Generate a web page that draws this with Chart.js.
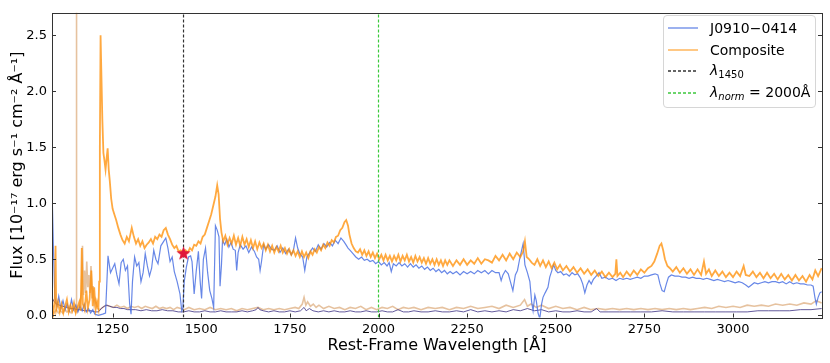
<!DOCTYPE html>
<html>
<head>
<meta charset="utf-8">
<script src="https://cdn.jsdelivr.net/npm/chart.js@4"></script>
<style>
  body { margin: 0; background: #fff; }
  #wrap { position: relative; width: 830px; height: 363px; }
  #legend {
    position: absolute; left: 663px; top: 15px; width: 151px; height: 91px;
    background: rgba(255,255,255,0.85); border: 1px solid #d6d6d6; border-radius: 4px;
    font-family: 'DejaVu Sans', sans-serif; font-size: 14px; color: #000;
  }
  .row { position: absolute; left: 0; height: 20px; display: flex; align-items: center; }
  .row svg { margin-left: 4px; }
  .row span { position: absolute; left: 46px; white-space: nowrap; }
  sub { font-size: 10px; vertical-align: -3px; }
</style>
</head>
<body>
<div id="wrap">
  <canvas id="chart" width="830" height="363"></canvas>
  <div id="legend"></div>
</div>
<script>
// rest-frame wavelength [Å], flux [1e-17 erg/s/cm2/Å]
const j0910 = [
  [1079,1.14],[1083,0.60],[1087,0.16],[1093,0.08],[1098,0.17],[1104,0.06],[1110,0.13],[1116,0.05],[1122,0.10],
  [1128,0.04],[1134,0.14],[1140,0.05],[1146,0.09],[1152,0.03],[1158,0.08],[1164,0.04],[1170,0.10],[1176,0.03],
  [1182,0.06],[1188,0.02],[1194,0.05],[1200,0.01],[1210,0.00],[1222,0.01],[1230,0.02],[1237,0.53],[1244,0.38],
  [1250,0.42],[1256,0.46],[1262,0.36],[1268,0.28],[1274,0.47],[1280,0.50],[1286,0.40],[1292,0.44],[1298,0.10],
  [1302,0.01],[1306,0.30],[1312,0.52],[1318,0.44],[1324,0.47],[1330,0.30],[1336,0.38],[1342,0.55],[1348,0.44],
  [1354,0.35],[1360,0.42],[1366,0.58],[1372,0.50],[1378,0.46],[1386,0.62],[1394,0.66],[1400,0.69],[1406,0.60],
  [1412,0.48],[1418,0.52],[1424,0.39],[1432,0.30],[1440,0.19],[1445,0.04],[1448,0.06],[1452,0.30],[1458,0.43],
  [1464,0.52],[1470,0.53],[1474,0.48],[1480,0.19],[1486,0.40],[1492,0.57],[1497,0.30],[1501,0.15],[1506,0.50],
  [1512,0.60],[1518,0.38],[1524,0.22],[1530,0.15],[1535,0.07],[1540,0.80],[1545,0.76],[1550,0.70],[1553,0.26],
  [1557,0.45],[1560,0.67],[1566,0.63],[1572,0.68],[1578,0.61],[1584,0.65],[1590,0.59],[1596,0.58],[1600,0.40],
  [1604,0.56],[1610,0.63],[1618,0.59],[1626,0.62],[1634,0.56],[1642,0.61],[1650,0.57],[1656,0.52],[1662,0.50],
  [1666,0.40],[1670,0.48],[1676,0.63],[1682,0.59],[1690,0.63],[1698,0.59],[1706,0.58],[1714,0.62],[1722,0.56],
  [1730,0.60],[1738,0.55],[1746,0.59],[1754,0.54],[1760,0.58],[1766,0.69],[1772,0.60],[1778,0.55],[1786,0.52],
  [1792,0.40],[1798,0.52],[1806,0.56],[1814,0.60],[1822,0.57],[1830,0.63],[1838,0.59],[1846,0.64],[1854,0.61],
  [1862,0.65],[1870,0.62],[1878,0.67],[1886,0.64],[1894,0.69],[1902,0.66],[1908,0.63],[1914,0.60],[1920,0.58],
  [1928,0.55],[1936,0.52],[1944,0.50],[1952,0.52],[1960,0.49],[1968,0.50],[1976,0.48],[1984,0.49],[1992,0.46],
  [2000,0.48],[2008,0.45],[2016,0.47],[2024,0.44],[2030,0.47],[2036,0.39],[2042,0.46],[2050,0.44],[2058,0.47],
  [2066,0.44],[2074,0.46],[2082,0.43],[2090,0.46],[2098,0.43],[2106,0.45],[2114,0.42],[2122,0.44],[2130,0.41],
  [2138,0.43],[2146,0.40],[2154,0.42],[2162,0.39],[2170,0.41],[2178,0.38],[2186,0.40],[2194,0.37],[2202,0.39],
  [2210,0.37],[2220,0.39],[2230,0.36],[2240,0.39],[2250,0.37],[2260,0.39],[2270,0.37],[2280,0.40],[2290,0.38],
  [2300,0.40],[2310,0.37],[2320,0.40],[2330,0.38],[2340,0.38],[2346,0.31],[2351,0.36],[2358,0.40],[2366,0.37],
  [2372,0.30],[2379,0.22],[2386,0.36],[2392,0.40],[2398,0.50],[2403,0.57],[2408,0.64],[2413,0.45],[2420,0.38],
  [2427,0.30],[2432,0.12],[2436,0.04],[2441,0.18],[2445,0.13],[2450,0.02],[2455,-0.03],[2460,0.10],[2464,0.16],
  [2470,0.20],[2478,0.25],[2483,0.34],[2488,0.39],[2494,0.45],[2500,0.40],[2506,0.38],[2514,0.39],[2522,0.36],
  [2530,0.37],[2538,0.35],[2546,0.38],[2554,0.36],[2562,0.37],[2570,0.33],[2576,0.28],[2582,0.20],[2588,0.27],
  [2594,0.31],[2600,0.28],[2606,0.32],[2614,0.35],[2622,0.38],[2630,0.33],[2640,0.34],[2650,0.32],[2660,0.33],
  [2670,0.31],[2680,0.33],[2690,0.32],[2700,0.33],[2710,0.32],[2720,0.33],[2730,0.34],[2740,0.33],[2750,0.35],
  [2760,0.35],[2770,0.36],[2780,0.37],[2788,0.36],[2794,0.28],[2800,0.22],[2806,0.21],[2812,0.28],[2818,0.34],
  [2826,0.36],[2836,0.35],[2846,0.35],[2856,0.34],[2866,0.34],[2876,0.33],[2886,0.34],[2896,0.33],[2906,0.33],
  [2916,0.32],[2926,0.33],[2936,0.32],[2946,0.31],[2956,0.32],[2966,0.31],[2976,0.30],[2986,0.31],[2996,0.30],
  [3006,0.29],[3016,0.30],[3026,0.29],[3036,0.27],[3044,0.25],[3052,0.27],[3060,0.29],[3070,0.28],[3080,0.29],
  [3090,0.30],[3100,0.29],[3110,0.30],[3120,0.30],[3130,0.29],[3140,0.30],[3150,0.28],[3160,0.30],[3170,0.28],
  [3180,0.29],[3190,0.28],[3200,0.28],[3210,0.27],[3220,0.27],[3226,0.26],[3231,0.16],[3235,0.10],[3240,0.16],
  [3245,0.20],[3250,0.21]
];

const composite = [
  [1079,0.10],[1083,0.02],[1087,0.15],[1089,0.62],[1091,0.05],[1096,0.12],[1101,0.03],[1106,0.10],[1111,0.02],
  [1116,0.08],[1121,0.14],[1126,0.03],[1131,0.09],[1136,0.04],[1141,0.11],[1146,0.02],[1151,0.07],[1156,0.12],
  [1160,0.04],[1163,0.60],[1166,0.10],[1171,0.05],[1176,0.22],[1180,0.06],[1185,0.14],[1190,0.40],[1194,0.08],
  [1198,0.25],[1202,0.05],[1206,0.12],[1210,0.06],[1212,0.30],[1214,1.50],[1216,2.50],[1218,2.20],[1221,1.75],
  [1224,1.45],[1227,1.38],[1230,1.30],[1233,1.40],[1236,1.49],[1239,1.30],[1242,1.20],[1246,1.04],[1250,0.95],
  [1255,0.90],[1260,0.85],[1266,0.78],[1272,0.72],[1278,0.67],[1284,0.64],[1290,0.70],[1296,0.66],[1304,0.78],
  [1310,0.70],[1316,0.64],[1322,0.68],[1328,0.62],[1334,0.66],[1340,0.60],[1346,0.63],[1352,0.65],[1358,0.68],
  [1364,0.64],[1370,0.70],[1376,0.68],[1382,0.72],[1388,0.70],[1394,0.76],[1400,0.78],[1406,0.72],[1412,0.68],
  [1418,0.63],[1424,0.60],[1430,0.62],[1436,0.57],[1442,0.58],[1450,0.55],[1456,0.58],[1462,0.56],[1468,0.60],
  [1474,0.58],[1480,0.63],[1486,0.62],[1492,0.66],[1498,0.64],[1504,0.70],[1510,0.72],[1516,0.78],[1522,0.84],
  [1528,0.90],[1534,0.98],[1540,1.06],[1545,1.16],[1549,1.08],[1553,0.86],[1557,0.74],[1562,0.66],[1568,0.71],
  [1574,0.63],[1580,0.69],[1586,0.64],[1592,0.71],[1598,0.63],[1604,0.69],[1610,0.62],[1616,0.70],[1622,0.63],
  [1628,0.68],[1634,0.61],[1640,0.67],[1646,0.60],[1652,0.66],[1658,0.59],[1664,0.65],[1670,0.60],[1676,0.64],
  [1682,0.58],[1688,0.63],[1694,0.57],[1700,0.62],[1706,0.56],[1712,0.61],[1718,0.57],[1724,0.62],[1730,0.56],
  [1736,0.60],[1742,0.55],[1748,0.59],[1754,0.54],[1760,0.58],[1766,0.53],[1772,0.57],[1778,0.52],[1784,0.57],
  [1790,0.52],[1796,0.56],[1802,0.51],[1808,0.57],[1814,0.54],[1820,0.59],[1826,0.56],[1832,0.61],[1838,0.58],
  [1844,0.63],[1850,0.60],[1856,0.65],[1862,0.62],[1868,0.67],[1874,0.65],[1880,0.70],[1886,0.71],[1892,0.76],
  [1898,0.78],[1904,0.83],[1909,0.85],[1914,0.80],[1918,0.72],[1924,0.64],[1930,0.60],[1936,0.57],[1942,0.56],
  [1948,0.59],[1954,0.54],[1960,0.58],[1966,0.53],[1972,0.57],[1978,0.52],[1984,0.56],[1990,0.51],[1996,0.55],
  [2002,0.50],[2008,0.54],[2014,0.49],[2020,0.54],[2026,0.49],[2032,0.53],[2038,0.48],[2044,0.53],[2050,0.49],
  [2056,0.54],[2062,0.48],[2068,0.53],[2074,0.49],[2080,0.54],[2086,0.48],[2092,0.52],[2098,0.47],[2104,0.53],
  [2110,0.48],[2116,0.52],[2122,0.47],[2128,0.51],[2134,0.46],[2140,0.51],[2146,0.46],[2152,0.50],[2158,0.45],
  [2164,0.50],[2170,0.45],[2176,0.49],[2182,0.44],[2188,0.49],[2194,0.45],[2200,0.49],[2210,0.44],[2220,0.49],
  [2230,0.45],[2240,0.50],[2250,0.45],[2260,0.49],[2270,0.46],[2280,0.51],[2290,0.46],[2300,0.50],[2310,0.49],
  [2320,0.47],[2330,0.53],[2340,0.49],[2350,0.54],[2360,0.49],[2370,0.55],[2380,0.50],[2390,0.56],[2400,0.52],
  [2408,0.57],[2413,0.66],[2418,0.52],[2425,0.50],[2432,0.47],[2440,0.45],[2448,0.50],[2456,0.44],[2464,0.49],
  [2472,0.43],[2480,0.48],[2488,0.42],[2496,0.47],[2504,0.41],[2512,0.45],[2520,0.40],[2530,0.44],[2540,0.39],
  [2550,0.43],[2560,0.38],[2570,0.42],[2580,0.37],[2590,0.41],[2600,0.36],[2610,0.40],[2620,0.35],[2630,0.39],
  [2640,0.34],[2650,0.38],[2660,0.34],[2668,0.37],[2671,0.50],[2674,0.35],[2682,0.38],[2690,0.34],[2700,0.39],
  [2710,0.35],[2720,0.40],[2730,0.36],[2740,0.41],[2750,0.38],[2760,0.42],[2770,0.44],[2778,0.48],[2786,0.55],
  [2793,0.62],[2798,0.64],[2803,0.58],[2808,0.50],[2815,0.44],[2822,0.42],[2830,0.39],[2840,0.43],[2850,0.38],
  [2860,0.42],[2870,0.37],[2880,0.41],[2890,0.36],[2900,0.41],[2910,0.36],[2918,0.48],[2924,0.37],[2932,0.41],
  [2940,0.35],[2950,0.40],[2960,0.35],[2970,0.39],[2980,0.34],[2990,0.38],[3000,0.34],[3010,0.39],[3020,0.35],
  [3030,0.44],[3036,0.36],[3046,0.35],[3056,0.39],[3066,0.34],[3076,0.38],[3086,0.33],[3096,0.38],[3106,0.33],
  [3116,0.37],[3126,0.32],[3136,0.37],[3146,0.32],[3156,0.36],[3166,0.31],[3176,0.36],[3186,0.31],[3196,0.35],
  [3206,0.30],[3216,0.36],[3224,0.32],[3232,0.40],[3240,0.35],[3250,0.42]
];

// error spectra
const compositeErr = [
  [1079,0.04],[1085,0.02],[1091,0.05],[1097,0.02],[1103,0.04],[1109,0.02],[1115,0.05],[1121,0.03],[1127,0.04],
  [1133,0.02],[1139,0.05],[1145,0.03],[1147.5,0.10],[1148,2.80],[1148.5,0.10],[1152,0.04],[1158,0.10],[1162,0.22],
  [1165,0.62],[1168,0.18],[1171,0.40],[1174,0.20],[1177,0.48],[1180,0.25],[1183,0.36],[1186,0.20],[1189,0.44],
  [1192,0.15],[1195,0.26],[1198,0.09],[1202,0.14],[1207,0.06],[1214,0.05],[1222,0.07],[1232,0.09],[1242,0.08],
  [1252,0.07],[1262,0.09],[1272,0.07],[1282,0.08],[1292,0.06],[1302,0.08],[1312,0.07],[1322,0.08],[1332,0.06],
  [1342,0.08],[1352,0.07],[1362,0.06],[1372,0.08],[1382,0.06],[1392,0.07],[1402,0.06],[1412,0.07],[1422,0.05],
  [1432,0.07],[1442,0.06],[1452,0.05],[1465,0.07],[1480,0.05],[1495,0.06],[1510,0.05],[1525,0.07],[1540,0.05],
  [1555,0.06],[1570,0.05],[1585,0.06],[1600,0.04],[1615,0.06],[1630,0.05],[1645,0.06],[1660,0.07],[1675,0.05],
  [1690,0.06],[1705,0.05],[1720,0.06],[1735,0.05],[1750,0.06],[1765,0.07],[1775,0.06],[1785,0.10],[1790,0.16],
  [1795,0.09],[1800,0.12],[1808,0.08],[1816,0.10],[1824,0.07],[1832,0.09],[1845,0.06],[1860,0.08],[1875,0.06],
  [1890,0.07],[1905,0.05],[1920,0.07],[1935,0.06],[1950,0.08],[1965,0.05],[1980,0.07],[1995,0.05],[2010,0.07],
  [2025,0.06],[2040,0.08],[2055,0.05],[2070,0.07],[2085,0.06],[2100,0.07],[2120,0.05],[2140,0.07],[2160,0.06],
  [2180,0.07],[2200,0.05],[2220,0.07],[2240,0.06],[2260,0.08],[2280,0.06],[2300,0.07],[2320,0.08],[2340,0.06],
  [2360,0.09],[2380,0.07],[2400,0.09],[2412,0.14],[2420,0.08],[2430,0.10],[2445,0.07],[2460,0.09],[2480,0.06],
  [2500,0.08],[2520,0.06],[2540,0.07],[2560,0.05],[2580,0.07],[2600,0.05],[2620,0.06],[2640,0.05],[2660,0.06],
  [2680,0.05],[2700,0.06],[2720,0.05],[2740,0.06],[2760,0.05],[2780,0.06],[2800,0.05],[2820,0.06],[2840,0.05],
  [2860,0.06],[2880,0.05],[2900,0.06],[2920,0.07],[2940,0.06],[2960,0.08],[2980,0.07],[3000,0.08],[3020,0.07],
  [3040,0.09],[3060,0.08],[3080,0.09],[3100,0.08],[3120,0.10],[3140,0.09],[3160,0.10],[3180,0.09],[3200,0.11],
  [3220,0.10],[3235,0.13],[3250,0.11]
];

const j0910Err = [
  [1079,0.16],[1085,0.12],[1092,0.10],[1100,0.09],[1110,0.08],[1120,0.07],[1130,0.06],[1140,0.06],[1150,0.05],
  [1160,0.05],[1170,0.04],[1180,0.04],[1190,0.04],[1200,0.03],[1210,0.03],[1218,0.06],[1226,0.08],[1234,0.09],
  [1242,0.08],[1252,0.07],[1262,0.07],[1272,0.06],[1282,0.06],[1292,0.05],[1302,0.05],[1315,0.05],[1330,0.04],
  [1345,0.05],[1360,0.04],[1375,0.04],[1390,0.05],[1405,0.04],[1420,0.04],[1435,0.03],[1450,0.03],[1465,0.04],
  [1480,0.03],[1495,0.03],[1510,0.04],[1525,0.03],[1540,0.03],[1555,0.04],[1570,0.03],[1585,0.03],[1600,0.03],
  [1615,0.04],[1630,0.03],[1645,0.04],[1655,0.05],[1660,0.07],[1665,0.05],[1675,0.04],[1690,0.03],[1705,0.04],
  [1720,0.03],[1735,0.03],[1750,0.04],[1765,0.03],[1780,0.04],[1790,0.07],[1796,0.04],[1805,0.06],[1815,0.04],
  [1830,0.03],[1845,0.04],[1860,0.03],[1875,0.04],[1890,0.03],[1905,0.03],[1920,0.04],[1935,0.03],[1950,0.03],
  [1965,0.04],[1980,0.03],[1995,0.03],[2010,0.04],[2025,0.03],[2040,0.03],[2055,0.05],[2070,0.03],[2085,0.03],
  [2100,0.04],[2120,0.03],[2140,0.03],[2160,0.04],[2180,0.03],[2200,0.03],[2220,0.04],[2240,0.03],[2260,0.05],
  [2280,0.03],[2300,0.04],[2320,0.03],[2340,0.04],[2360,0.03],[2380,0.05],[2400,0.04],[2420,0.06],[2440,0.04],
  [2460,0.05],[2480,0.03],[2500,0.04],[2520,0.03],[2540,0.03],[2560,0.04],[2580,0.03],[2600,0.03],[2615,0.06],
  [2625,0.03],[2650,0.03],[2680,0.03],[2710,0.03],[2740,0.03],[2770,0.03],[2800,0.04],[2830,0.03],[2860,0.03],
  [2890,0.03],[2920,0.03],[2950,0.03],[2980,0.03],[3010,0.03],[3040,0.03],[3070,0.04],[3100,0.04],[3130,0.04],
  [3160,0.04],[3190,0.05],[3220,0.05],[3250,0.06]
];

const lambda1450 = 1450;
const lambdaNorm = 2000;
const fluxAt1450 = 0.55;

const xTicks = [1250, 1500, 1750, 2000, 2250, 2500, 2750, 3000];
const yTicks = [0.0, 0.5, 1.0, 1.5, 2.0, 2.5];
const xRange = [1079, 3251];
const yRange = [-0.02, 2.7];

const toXY = (arr) => arr.map(([x, y]) => ({ x, y }));

Chart.defaults.font.family = "'DejaVu Sans', sans-serif";
Chart.defaults.color = '#000';

// filled five point star for the 1450 marker
function starImage(size, color) {
  const c = document.createElement('canvas');
  c.width = size; c.height = size;
  const g = c.getContext('2d');
  const cx = size / 2, cy = size / 2, ro = size / 2, ri = ro * 0.42;
  g.beginPath();
  for (let i = 0; i < 10; i++) {
    const r = i % 2 ? ri : ro;
    const a = -Math.PI / 2 + i * Math.PI / 5;
    g.lineTo(cx + r * Math.cos(a), cy + r * Math.sin(a));
  }
  g.closePath();
  g.fillStyle = color;
  g.fill();
  return c;
}

const frame = {
  id: 'frame',
  afterDatasetsDraw(chart) {
    const { ctx, chartArea: a, scales: { x, y } } = chart;
    ctx.save();
    ctx.strokeStyle = '#333';
    ctx.lineWidth = 1;
    ctx.beginPath();
    xTicks.forEach((v) => {
      const px = Math.round(x.getPixelForValue(v)) + 0.5;
      ctx.moveTo(px, a.bottom); ctx.lineTo(px, a.bottom - 4);
    });
    yTicks.forEach((v) => {
      const py = Math.round(y.getPixelForValue(v)) + 0.5;
      ctx.moveTo(a.left, py); ctx.lineTo(a.left + 4, py);
      ctx.moveTo(a.right, py); ctx.lineTo(a.right - 4, py);
    });
    ctx.stroke();
    ctx.strokeRect(Math.round(a.left) + 0.5, Math.round(a.top) + 0.5,
      Math.round(a.right - a.left), Math.round(a.bottom - a.top));
    ctx.restore();
  }
};

const line = (data, color, width, order) => ({
  data: toXY(data), borderColor: color, borderWidth: width, pointRadius: 0,
  tension: 0, fill: false, order
});

new Chart(document.getElementById('chart'), {
  type: 'line',
  data: {
    datasets: [
      line(j0910, 'rgba(65,105,225,0.8)', 1.2, 3),
      line(composite, 'rgba(255,140,0,0.75)', 1.8, 2),
      line(compositeErr, 'rgba(205,133,63,0.5)', 1.6, 4),
      line(j0910Err, 'rgba(72,61,139,0.85)', 1, 3.5),
      { data: [{ x: lambda1450, y: yRange[0] }, { x: lambda1450, y: yRange[1] }], borderColor: '#333',
        borderWidth: 1.2, borderDash: [3, 2], pointRadius: 0, order: 1 },
      { data: [{ x: lambdaNorm, y: yRange[0] }, { x: lambdaNorm, y: yRange[1] }], borderColor: '#3cc83c',
        borderWidth: 1.2, borderDash: [3, 2], pointRadius: 0, order: 1 },
      { type: 'scatter', data: [{ x: lambda1450, y: fluxAt1450 }], pointStyle: starImage(15, '#e0183a'),
        pointRadius: 7, order: 0 }
    ]
  },
  options: {
    responsive: false,
    animation: false,
    events: [],
    layout: { padding: { left: 0, right: 8, top: 7, bottom: 0 } },
    plugins: { legend: { display: false }, tooltip: { enabled: false } },
    scales: {
      x: {
        type: 'linear', min: xRange[0], max: xRange[1],
        afterBuildTicks: (s) => { s.ticks = xTicks.map((v) => ({ value: v })); },
        afterFit: (s) => { s.height = 45.5; },
        grid: { display: false, drawTicks: false },
        border: { display: false },
        ticks: { font: { size: 13 }, padding: 4, maxRotation: 0, callback: (v) => String(v) },
        title: { display: true, text: 'Rest-Frame Wavelength [Å]', font: { size: 16 }, padding: { top: 0, bottom: 8 } }
      },
      y: {
        type: 'linear', min: yRange[0], max: yRange[1],
        afterBuildTicks: (s) => { s.ticks = yTicks.map((v) => ({ value: v })); },
        afterFit: (s) => { s.width = 52; },
        grid: { display: false, drawTicks: false },
        border: { display: false },
        ticks: { font: { size: 13 }, padding: 5, callback: (v) => v.toFixed(1) },
        title: { display: true, text: 'Flux [10⁻¹⁷ erg s⁻¹ cm⁻² Å⁻¹]', font: { size: 16 }, padding: { top: 8, bottom: 0 } }
      }
    }
  },
  plugins: [frame]
});

// legend
const legendItems = [
  { color: 'rgba(65,105,225,0.8)', dash: '', html: 'J0910−0414' },
  { color: 'rgba(255,140,0,0.75)', dash: '', html: 'Composite' },
  { color: '#333', dash: '3,2', html: '<i>λ</i><sub>1450</sub>' },
  { color: '#3cc83c', dash: '3,2', html: '<i>λ<sub>norm</sub></i> = 2000Å' }
];
const legend = document.getElementById('legend');
legendItems.forEach((it, i) => {
  const row = document.createElement('div');
  row.className = 'row';
  row.style.top = (2 + i * 21.7) + 'px';
  row.innerHTML = `<svg width="32" height="4"><line x1="0" y1="2" x2="30" y2="2" stroke="${it.color}" stroke-width="1.3" ${it.dash ? `stroke-dasharray="${it.dash}"` : ''}/></svg><span>${it.html}</span>`;
  legend.appendChild(row);
});
</script>
</body>
</html>
